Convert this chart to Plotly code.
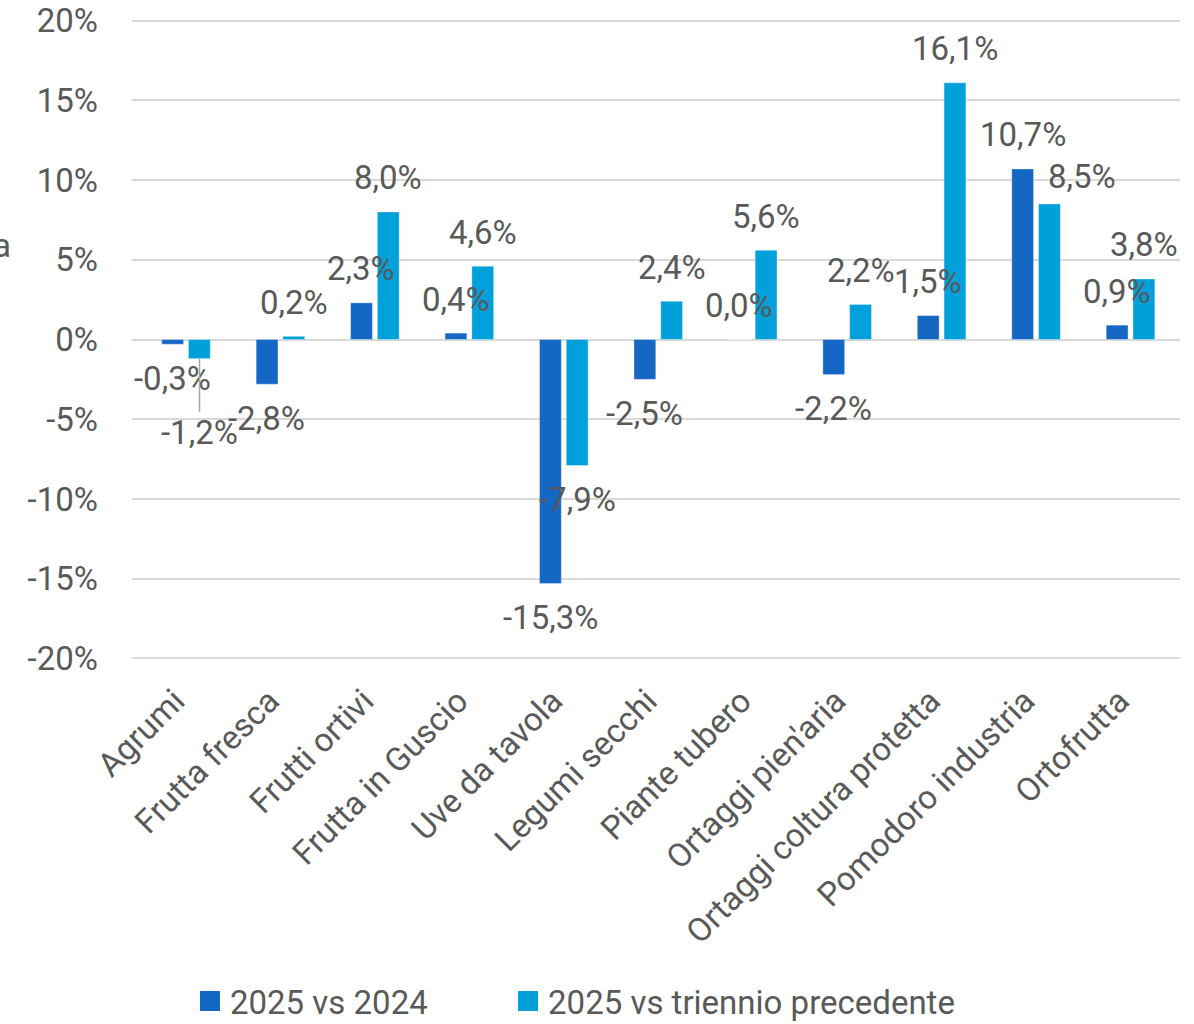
import plotly.graph_objects as go

# categorie e variazioni percentuali
categories = [
    "Agrumi", "Frutta fresca", "Frutti ortivi", "Frutta in Guscio", "Uve da tavola",
    "Legumi secchi", "Piante tubero", "Ortaggi pien'aria", "Ortaggi coltura protetta",
    "Pomodoro industria", "Ortofrutta",
]
vs_2024 = [-0.3, -2.8, 2.3, 0.4, -15.3, -2.5, 0.0, -2.2, 1.5, 10.7, 0.9]
vs_triennio = [-1.2, 0.2, 8.0, 4.6, -7.9, 2.4, 5.6, 2.2, 16.1, 8.5, 3.8]
series_names = ["2025 vs 2024", "2025 vs triennio precedente"]

y_tickvals = [-20, -15, -10, -5, 0, 5, 10, 15, 20]
y_ticktext = ["-20%", "-15%", "-10%", "-5%", "0%", "5%", "10%", "15%", "20%"]

DARK = "#1467C3"
LIGHT = "#00A0DA"
TEXT = "#595959"
FONT = "Roboto"
FS = 33

# etichette spostate a mano (serie, indice) -> (dx px, dy px)
LABEL_MOVES = {(1, 0): (0, -74), (1, 9): (32, 27)}
LABEL_GAP = 34
BAR_SHIFT = 13.5


def fmt(v):
    return f"{v:.1f}".replace(".", ",") + "%"


fig = go.Figure()
colors = [DARK, LIGHT]
legends = ["legend", "legend2"]
for s, vals in enumerate([vs_2024, vs_triennio]):
    fig.add_trace(
        go.Bar(
            x=categories,
            y=vals,
            name=series_names[s],
            marker=dict(color=colors[s], line=dict(color="rgba(255,255,255,0.35)", width=1)),
            showlegend=False,
            hoverinfo="skip",
        )
    )

# voci di legenda con quadratini più grandi
for s in range(2):
    fig.add_trace(
        go.Scatter(
            x=[None], y=[None], mode="markers", name=series_names[s],
            marker=dict(symbol="square", size=16, color=colors[s],
                        line=dict(color=colors[s], width=4)),
            legend=legends[s],
        )
    )

for s, vals in enumerate([vs_2024, vs_triennio]):
    dx = -BAR_SHIFT if s == 0 else BAR_SHIFT
    for i, v in enumerate(vals):
        mx, my = LABEL_MOVES.get((s, i), (0, None))
        sign = 1 if v >= 0 else -1
        yshift = my if my is not None else sign * LABEL_GAP
        if (s, i) == (1, 0):
            # etichetta allontanata con linea guida
            fig.add_annotation(
                x=categories[i], y=v, xshift=dx + mx, text=fmt(v),
                showarrow=True, arrowhead=0, arrowcolor="#A6A6A6", arrowwidth=1.5,
                ax=0, ay=-yshift, standoff=0,
                font=dict(family=FONT, size=FS, color=TEXT),
            )
            continue
        fig.add_annotation(
            x=categories[i], y=v, xshift=dx + mx, yshift=yshift, text=fmt(v),
            showarrow=False, yanchor="middle",
            font=dict(family=FONT, size=FS, color=TEXT),
        )

# frammento di titolo tagliato sul bordo sinistro
fig.add_annotation(
    x=-0.1345, y=5.9, xref="paper", yref="y", text="a", showarrow=False,
    xanchor="left", yanchor="middle", font=dict(family=FONT, size=FS, color=TEXT),
)

legend_common = dict(
    orientation="h", xref="container", yref="container",
    y=0.0225, yanchor="middle", xanchor="left",
    bgcolor="rgba(0,0,0,0)", font=dict(family=FONT, size=FS, color=TEXT),
)

fig.update_layout(
    width=1194,
    height=1024,
    margin=dict(l=132, r=14, t=19, b=364),
    paper_bgcolor="white",
    plot_bgcolor="white",
    font=dict(family=FONT, size=FS, color=TEXT),
    barmode="group",
    bargap=0.433,
    bargroupgap=0.185,
    legend=dict(x=0.1591, **legend_common),
    legend2=dict(x=0.4255, **legend_common),
    xaxis=dict(
        tickangle=-45, showgrid=False, zeroline=False, showline=False,
        automargin=False, ticklabelstandoff=14, ticklabelshift=-11,
        tickfont=dict(family=FONT, size=FS, color=TEXT),
    ),
    yaxis=dict(
        range=[-20.1, 20.1], tickvals=y_tickvals, ticktext=y_ticktext,
        showgrid=True, gridcolor="#D9D9D9", gridwidth=2,
        zeroline=True, zerolinecolor="#D9D9D9", zerolinewidth=2,
        automargin=False, ticklabelstandoff=33,
        tickfont=dict(family=FONT, size=FS, color=TEXT),
    ),
)

# niente margine del body, così il grafico parte da (0, 0)
fig.write_html(
    "out.html",
    config={"displayModeBar": False},
    post_script="document.body.style.margin='0';",
)
